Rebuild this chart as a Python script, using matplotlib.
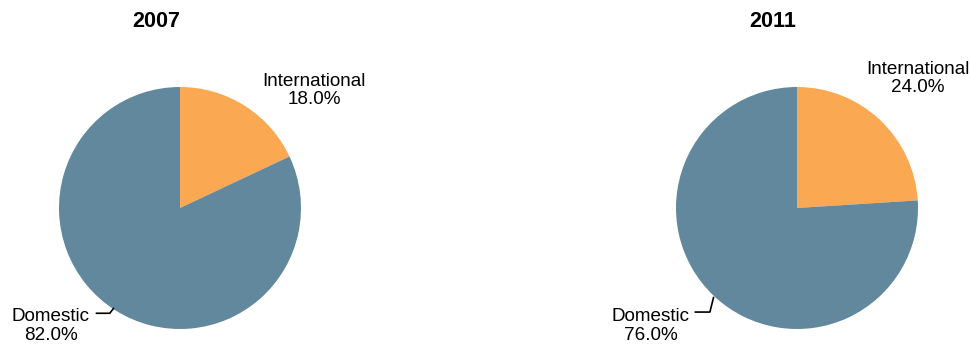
import matplotlib
matplotlib.use("Agg")
import matplotlib.pyplot as plt

plt.rcParams["font.family"] = ["Liberation Sans", "DejaVu Sans"]

YEARS = ["2007", "2011"]
CATS = ["International", "Domestic"]
SHARES = {"2007": [18.0, 82.0], "2011": [24.0, 76.0]}
COLS = ["#FBA852", "#62889D"]

W, H = 971, 345
R = 121
CENTERS = {"2007": (180, 208), "2011": (797, 208)}
# label positions (data units, radius = 1)
INTL_POS = {"2007": (1.11, 0.97), "2011": (1.0, 1.07)}
DOM_POS = {"2007": (-1.07, -0.975), "2011": (-1.21, -0.975)}
LEADER = {"2007": [(-0.69, -0.87), (-0.58, -0.87), (-0.55, -0.83)],
          "2011": [(-0.84, -0.86), (-0.72, -0.86), (-0.69, -0.74)]}

fig = plt.figure(figsize=(W / 100, H / 100), dpi=100)
for yr in YEARS:
    cx, cy = CENTERS[yr]
    ax = fig.add_axes([(cx - R) / W, (H - cy - R) / H, 2 * R / W, 2 * R / H])
    ax.pie(SHARES[yr], colors=COLS, startangle=90, counterclock=False,
           radius=1, wedgeprops={"linewidth": 0})
    ax.set_xlim(-1, 1); ax.set_ylim(-1, 1)
    ax.set_aspect("equal")
    ax.axis("off")
    ax.text(-0.2, 1.54, yr, ha="center", va="center", fontsize=15.5,
            fontweight="bold", clip_on=False)
    v = SHARES[yr]
    ax.text(*INTL_POS[yr], f"{CATS[0]}\n{v[0]:.1f}%", ha="center", va="center",
            fontsize=13.6, linespacing=1.1, clip_on=False)
    ax.text(*DOM_POS[yr], f"{CATS[1]}\n{v[1]:.1f}%", ha="center", va="center",
            fontsize=13.6, linespacing=1.1, clip_on=False)
    xs, ys = zip(*LEADER[yr])
    ax.plot(xs, ys, color="black", lw=1.2, clip_on=False)

fig.savefig("out.png", dpi=100)
